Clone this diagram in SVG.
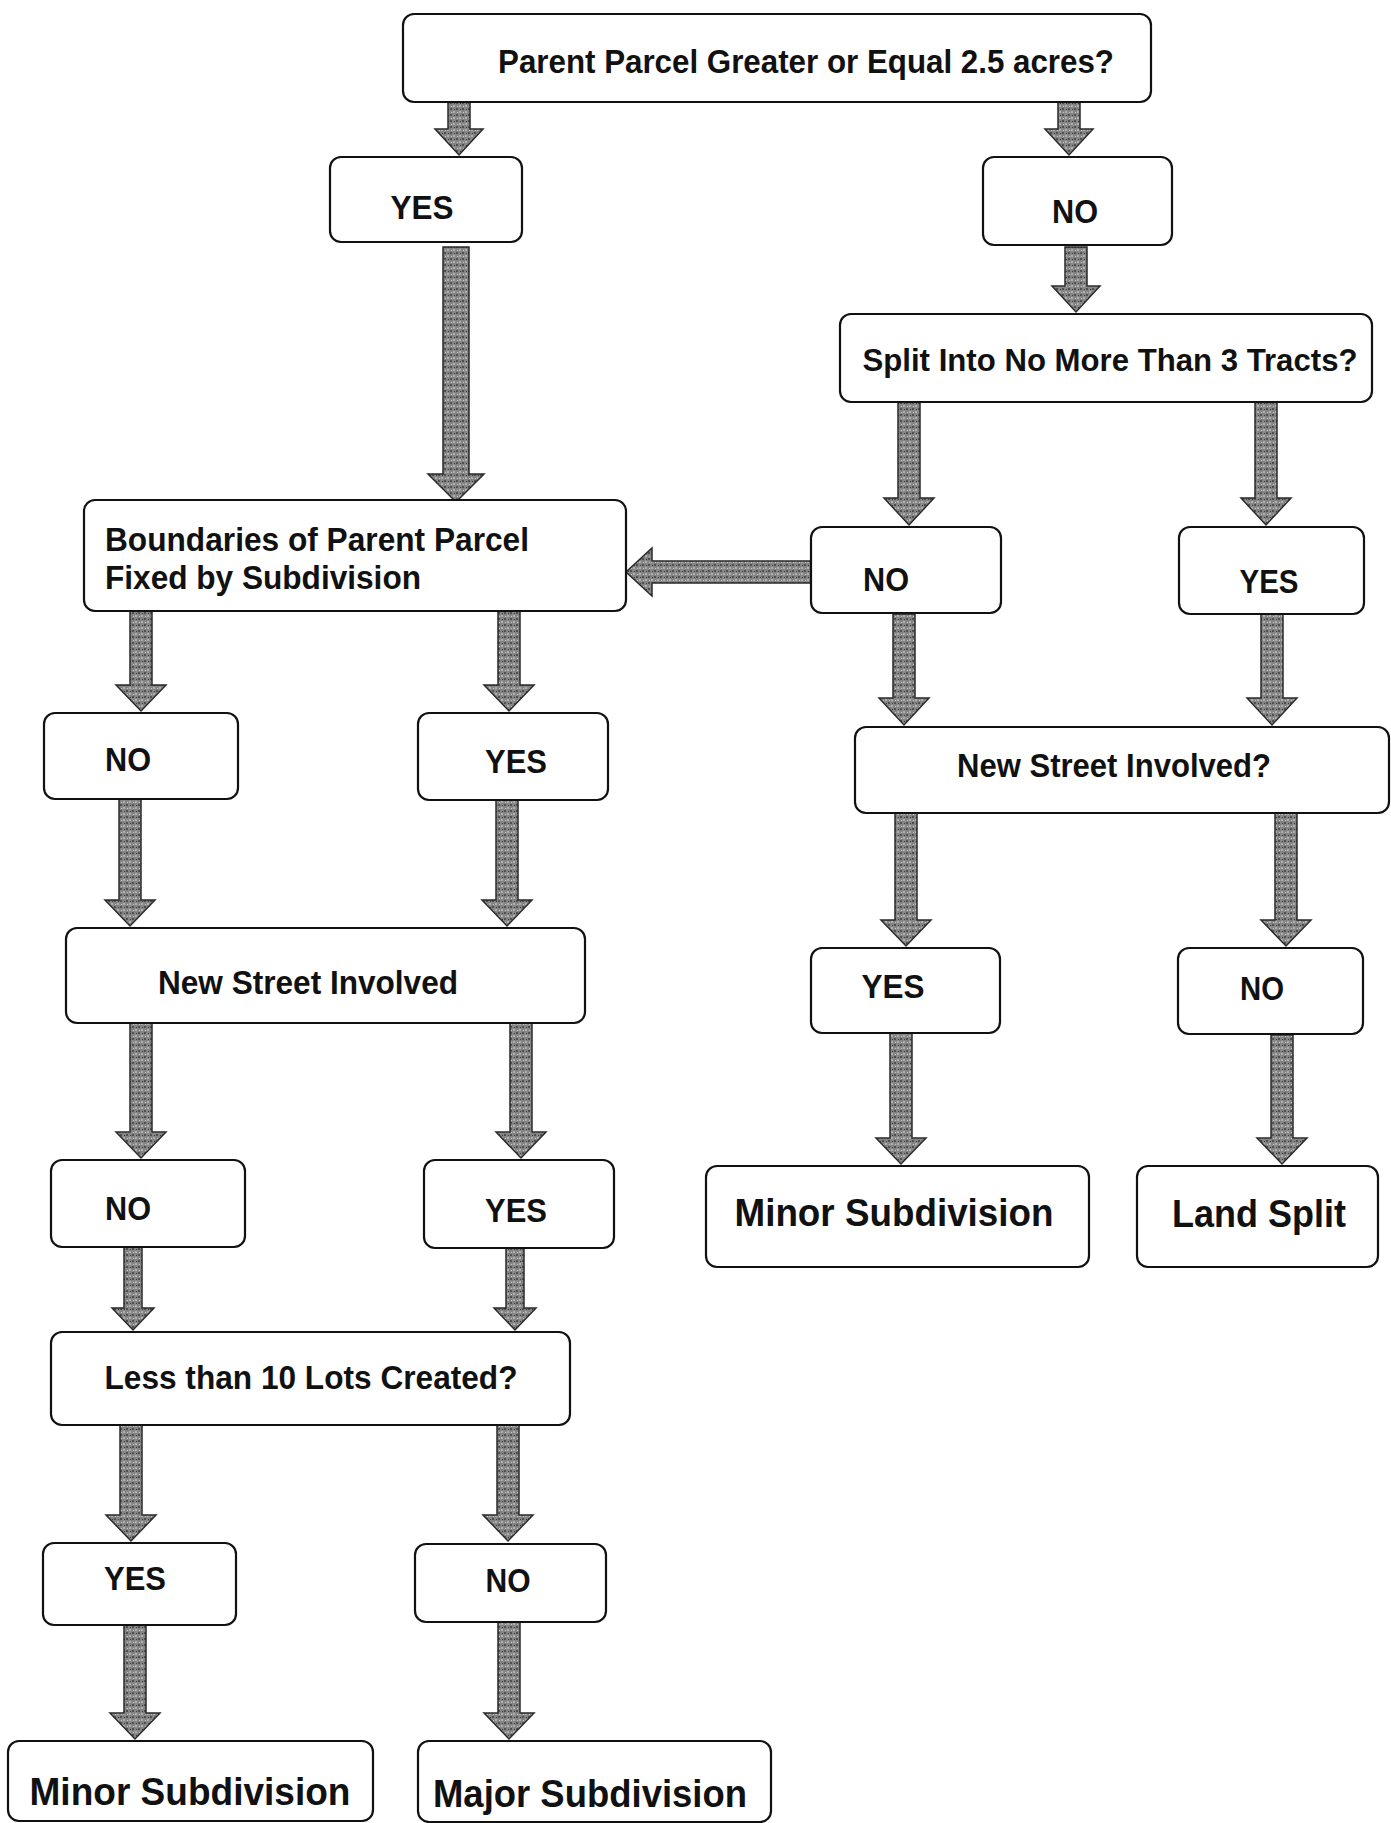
<svg xmlns="http://www.w3.org/2000/svg" width="1391" height="1823" viewBox="0 0 1391 1823">
<defs>
<pattern id="tex" width="6" height="6" patternUnits="userSpaceOnUse">
<rect width="6" height="6" fill="#858585"/>
<rect x="0" y="0" width="2" height="2" fill="#505050"/>
<rect x="3" y="3" width="2" height="2" fill="#b0b0b0"/>
<rect x="4" y="1" width="1" height="1" fill="#3a3a3a"/>
<rect x="1" y="4" width="1" height="1" fill="#c8c8c8"/>
</pattern>
</defs>
<style>
.box{fill:#fff;stroke:#111;stroke-width:2.2}
.t{font-family:"Liberation Sans",Arial,sans-serif;font-weight:bold;font-size:34px;fill:#111;text-anchor:middle}
.tl{text-anchor:start}
.mid{font-size:31px}
.big{font-size:39px}
.arr{fill:url(#tex);stroke:#2a2a2a;stroke-width:1.5;stroke-linejoin:miter}
</style>
<rect width="1391" height="1823" fill="#fff"/>

<g id="connectors">
<polygon class="arr" points="448,102 470,102 470,129 483,129 459,155 435,129 448,129"/>
<polygon class="arr" points="1058,102 1080,102 1080,129 1093,129 1069,155 1045,129 1058,129"/>
<polygon class="arr" points="1065,247 1087,247 1087,286 1100,286 1076,312 1052,286 1065,286"/>
<polygon class="arr" points="443,247 469,247 469,474 484,474 456,502 428,474 443,474"/>
<polygon class="arr" points="898,402 920,402 920,498 934,498 909,525 884,498 898,498"/>
<polygon class="arr" points="1255,402 1277,402 1277,498 1291,498 1266,525 1241,498 1255,498"/>
<polygon class="arr" points="811,561 652,561 652,548 626,572 652,596 652,583 811,583"/>
<polygon class="arr" points="893,614 915,614 915,698 929,698 904,725 879,698 893,698"/>
<polygon class="arr" points="1261,614 1283,614 1283,698 1297,698 1272,725 1247,698 1261,698"/>
<polygon class="arr" points="130,611 152,611 152,685 166,685 141,711 116,685 130,685"/>
<polygon class="arr" points="498,611 520,611 520,685 534,685 509,711 484,685 498,685"/>
<polygon class="arr" points="119,799 141,799 141,900 155,900 130,926 105,900 119,900"/>
<polygon class="arr" points="496,800 518,800 518,900 532,900 507,926 482,900 496,900"/>
<polygon class="arr" points="895,813 917,813 917,920 931,920 906,946 881,920 895,920"/>
<polygon class="arr" points="1275,813 1297,813 1297,920 1311,920 1286,946 1261,920 1275,920"/>
<polygon class="arr" points="130,1023 152,1023 152,1132 166,1132 141,1158 116,1132 130,1132"/>
<polygon class="arr" points="510,1023 532,1023 532,1132 546,1132 521,1158 496,1132 510,1132"/>
<polygon class="arr" points="890,1033 912,1033 912,1138 926,1138 901,1164 876,1138 890,1138"/>
<polygon class="arr" points="1271,1035 1293,1035 1293,1138 1307,1138 1282,1164 1257,1138 1271,1138"/>
<polygon class="arr" points="124,1247 142,1247 142,1308 154,1308 133,1330 112,1308 124,1308"/>
<polygon class="arr" points="506,1248 524,1248 524,1308 536,1308 515,1330 494,1308 506,1308"/>
<polygon class="arr" points="120,1425 142,1425 142,1515 156,1515 131,1541 106,1515 120,1515"/>
<polygon class="arr" points="497,1425 519,1425 519,1515 533,1515 508,1541 483,1515 497,1515"/>
<polygon class="arr" points="124,1625 146,1625 146,1713 160,1713 135,1739 110,1713 124,1713"/>
<polygon class="arr" points="498,1622 520,1622 520,1713 534,1713 509,1739 484,1713 498,1713"/>
</g>

<g id="n-parent"><rect class="box" x="403" y="14" width="748" height="88" rx="11"/><text class="t" x="806" y="73" textLength="616" lengthAdjust="spacingAndGlyphs">Parent Parcel Greater or Equal 2.5 acres?</text></g>
<g id="n-yes1"><rect class="box" x="330" y="157" width="192" height="85" rx="11"/><text class="t" x="422" y="218.5" textLength="63" lengthAdjust="spacingAndGlyphs">YES</text></g>
<g id="n-no1"><rect class="box" x="983" y="157" width="189" height="88" rx="11"/><text class="t" x="1075" y="223" textLength="46" lengthAdjust="spacingAndGlyphs">NO</text></g>
<g id="n-split"><rect class="box" x="840" y="314" width="532" height="88" rx="11"/><text class="t mid" x="1110" y="371" textLength="495" lengthAdjust="spacingAndGlyphs">Split Into No More Than 3 Tracts?</text></g>
<g id="n-bound"><rect class="box" x="84" y="500" width="542" height="111" rx="11"/><text class="t tl" x="105" y="551" textLength="424" lengthAdjust="spacingAndGlyphs">Boundaries of Parent Parcel</text><text class="t tl" x="105" y="589" textLength="316" lengthAdjust="spacingAndGlyphs">Fixed by Subdivision</text></g>
<g id="n-no2"><rect class="box" x="811" y="527" width="190" height="86" rx="11"/><text class="t" x="886" y="590.5" textLength="46" lengthAdjust="spacingAndGlyphs">NO</text></g>
<g id="n-yes2"><rect class="box" x="1179" y="527" width="185" height="87" rx="11"/><text class="t" x="1269" y="592.5" textLength="59" lengthAdjust="spacingAndGlyphs">YES</text></g>
<g id="n-no3"><rect class="box" x="44" y="713" width="194" height="86" rx="11"/><text class="t" x="128" y="770.5" textLength="46" lengthAdjust="spacingAndGlyphs">NO</text></g>
<g id="n-yes3"><rect class="box" x="418" y="713" width="190" height="87" rx="11"/><text class="t" x="516" y="773" textLength="62" lengthAdjust="spacingAndGlyphs">YES</text></g>
<g id="n-streetR"><rect class="box" x="855" y="727" width="534" height="86" rx="11"/><text class="t" x="1114" y="776.5" textLength="314" lengthAdjust="spacingAndGlyphs">New Street Involved?</text></g>
<g id="n-streetL"><rect class="box" x="66" y="928" width="519" height="95" rx="11"/><text class="t" x="308" y="994" textLength="300" lengthAdjust="spacingAndGlyphs">New Street Involved</text></g>
<g id="n-yes4"><rect class="box" x="811" y="948" width="189" height="85" rx="11"/><text class="t" x="893" y="997.5" textLength="63" lengthAdjust="spacingAndGlyphs">YES</text></g>
<g id="n-no4"><rect class="box" x="1178" y="948" width="185" height="86" rx="11"/><text class="t" x="1262" y="999.5" textLength="44" lengthAdjust="spacingAndGlyphs">NO</text></g>
<g id="n-no5"><rect class="box" x="51" y="1160" width="194" height="87" rx="11"/><text class="t" x="128" y="1219.5" textLength="46" lengthAdjust="spacingAndGlyphs">NO</text></g>
<g id="n-yes5"><rect class="box" x="424" y="1160" width="190" height="88" rx="11"/><text class="t" x="516" y="1222" textLength="62" lengthAdjust="spacingAndGlyphs">YES</text></g>
<g id="n-minorR"><rect class="box" x="706" y="1166" width="383" height="101" rx="11"/><text class="t big" x="894" y="1225.5" textLength="319" lengthAdjust="spacingAndGlyphs">Minor Subdivision</text></g>
<g id="n-land"><rect class="box" x="1137" y="1166" width="241" height="101" rx="11"/><text class="t big" x="1259" y="1226.5" textLength="174" lengthAdjust="spacingAndGlyphs">Land Split</text></g>
<g id="n-less"><rect class="box" x="51" y="1332" width="519" height="93" rx="11"/><text class="t" x="311" y="1388.5" textLength="413" lengthAdjust="spacingAndGlyphs">Less than 10 Lots Created?</text></g>
<g id="n-yes6"><rect class="box" x="43" y="1543" width="193" height="82" rx="11"/><text class="t" x="135" y="1589.5" textLength="62" lengthAdjust="spacingAndGlyphs">YES</text></g>
<g id="n-no6"><rect class="box" x="415" y="1544" width="191" height="78" rx="11"/><text class="t" x="508" y="1591.5" textLength="45" lengthAdjust="spacingAndGlyphs">NO</text></g>
<g id="n-minorB"><rect class="box" x="8" y="1741" width="365" height="80" rx="11"/><text class="t big" x="190" y="1804.5" textLength="321" lengthAdjust="spacingAndGlyphs">Minor Subdivision</text></g>
<g id="n-major"><rect class="box" x="418" y="1741" width="353" height="81" rx="11"/><text class="t big" x="590" y="1806.5" textLength="314" lengthAdjust="spacingAndGlyphs">Major Subdivision</text></g>
</svg>
